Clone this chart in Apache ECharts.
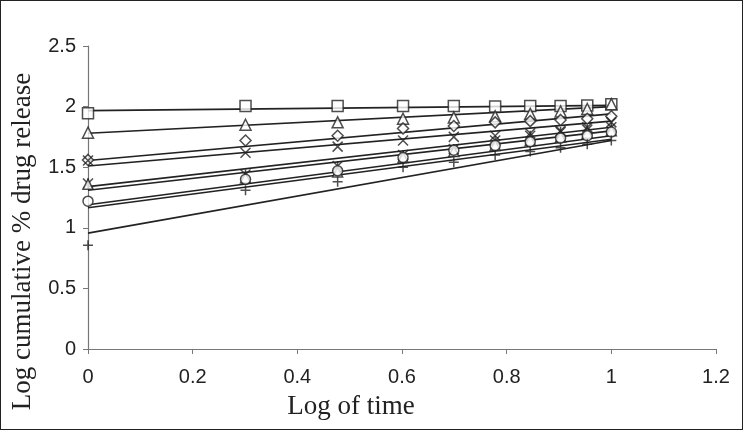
<!DOCTYPE html>
<html><head><meta charset="utf-8">
<script src="https://cdn.jsdelivr.net/npm/echarts@6/dist/echarts.min.js"></script>
<style>
html,body{margin:0;padding:0;background:#fff;}
#c{width:743px;height:430px;box-sizing:border-box;border:1.5px solid #222;}
</style></head>
<body><div id="c"></div>
<script>
var logTime = [0, 0.301, 0.477, 0.602, 0.699, 0.778, 0.845, 0.903, 0.954, 1.0];
var squareVals  = [1.945, 2.005, 2.005, 2.005, 2.005, 2.0, 2.005, 2.005, 2.01, 2.02];
var triangleVals= [1.785, 1.85, 1.87, 1.9, 1.91, 1.92, 1.94, 1.96, 1.98, 2.02];
var diamondVals = [1.56, 1.72, 1.76, 1.82, 1.84, 1.87, 1.88, 1.89, 1.9, 1.92];
var crossVals   = [1.555, 1.62, 1.67, 1.72, 1.75, 1.76, 1.78, 1.8, 1.83, 1.87];
var starVals    = [1.365, 1.44, 1.51, 1.6, 1.65, 1.72, 1.76, 1.79, 1.81, 1.83];
var triangle2Vals=[1.36, 1.41, 1.46, 1.58, 1.63, 1.68, 1.72, 1.75, 1.78, 1.80];
var circleVals  = [1.22, 1.4, 1.47, 1.58, 1.64, 1.68, 1.71, 1.74, 1.76, 1.79];
var dashVals    = [1.22, 1.38, 1.45, 1.57, 1.62, 1.66, 1.69, 1.72, 1.74, 1.77];
var plusVals    = [0.855, 1.31, 1.38, 1.5, 1.54, 1.6, 1.63, 1.66, 1.69, 1.72];
// trendline values read at log time 0 and 1
var trendX = [0, 1];
var trendStart = [1.967, 1.78, 1.555, 1.51, 1.34, 1.31, 1.19, 1.165, 0.956];
var trendEnd   = [2.01, 2.0, 1.94, 1.88, 1.83, 1.80, 1.76, 1.73, 1.72];
var xTicks = [0, 0.2, 0.4, 0.6, 0.8, 1, 1.2];
var yTicks = [0, 0.5, 1, 1.5, 2, 2.5];

var ink = '#222';
var markers = [
  {v: squareVals, sym: 'rect', size: 11, fill: '#fff'},
  {v: triangleVals, sym: 'triangle', size: 11, fill: '#fff'},
  {v: diamondVals, sym: 'diamond', size: 11, fill: '#fff'},
  {v: crossVals, sym: 'path://M0,0L10,10M10,0L0,10', size: 10, fill: 'none'},
  {v: starVals, sym: 'path://M0,0L10,10M10,0L0,10M5,0L5,10', size: 10, fill: 'none'},
  {v: triangle2Vals, sym: 'triangle', size: 10, fill: '#fff'},
  {v: circleVals, sym: 'circle', size: 10, fill: '#fff'},
  {v: dashVals, sym: 'path://M0,5L10,5', size: [10,2], fill: 'none'},
  {v: plusVals, sym: 'path://M5,0L5,10M0,5L10,5', size: 10, fill: 'none'}
];
var series = [];
for (var i = 0; i < trendStart.length; i++) {
  series.push({type:'line', data:[[trendX[0], trendStart[i]],[trendX[1], trendEnd[i]]],
    symbol:'none', lineStyle:{color:ink, width:1.6}, z:2, silent:true});
}
markers.forEach(function(m){
  series.push({type:'scatter', data: logTime.map(function(x,j){return [x, m.v[j]];}),
    symbol: m.sym, symbolSize: m.size, z:3,
    itemStyle:{color: m.fill, borderColor: ink, borderWidth: 1.5}});
});

var chart = echarts.init(document.getElementById('c'));
chart.setOption({
  animation:false,
  backgroundColor:'#fff',
  grid:{left:86, right:26, top:45, bottom:80},
  xAxis:{type:'value', min:0, max:1.2, interval:0.2,
    name:'Log of time', nameLocation:'middle', nameGap:44,
    nameTextStyle:{fontFamily:'Liberation Serif', fontSize:27, color:'#222', padding:[0,102,0,0]},
    axisLine:{lineStyle:{color:'#777', width:1.2}},
    axisTick:{lineStyle:{color:'#777'}, length:5},
    axisLabel:{fontFamily:'Liberation Sans', fontSize:20, color:'#222', margin:18,
      formatter:function(v){return String(+v.toFixed(1));}},
    splitLine:{show:false}},
  yAxis:{type:'value', min:0, max:2.5, interval:0.5,
    name:'Log cumulative % drug release', nameLocation:'middle', nameGap:52,
    nameTextStyle:{fontFamily:'Liberation Serif', fontSize:27, color:'#222', padding:[0,88,0,0]},
    axisLine:{show:true, lineStyle:{color:'#777', width:1.2}},
    axisTick:{show:true, lineStyle:{color:'#777'}, length:5},
    axisLabel:{fontFamily:'Liberation Sans', fontSize:20, color:'#222', margin:12},
    splitLine:{show:false}},
  series: series
});
</script></body></html>
